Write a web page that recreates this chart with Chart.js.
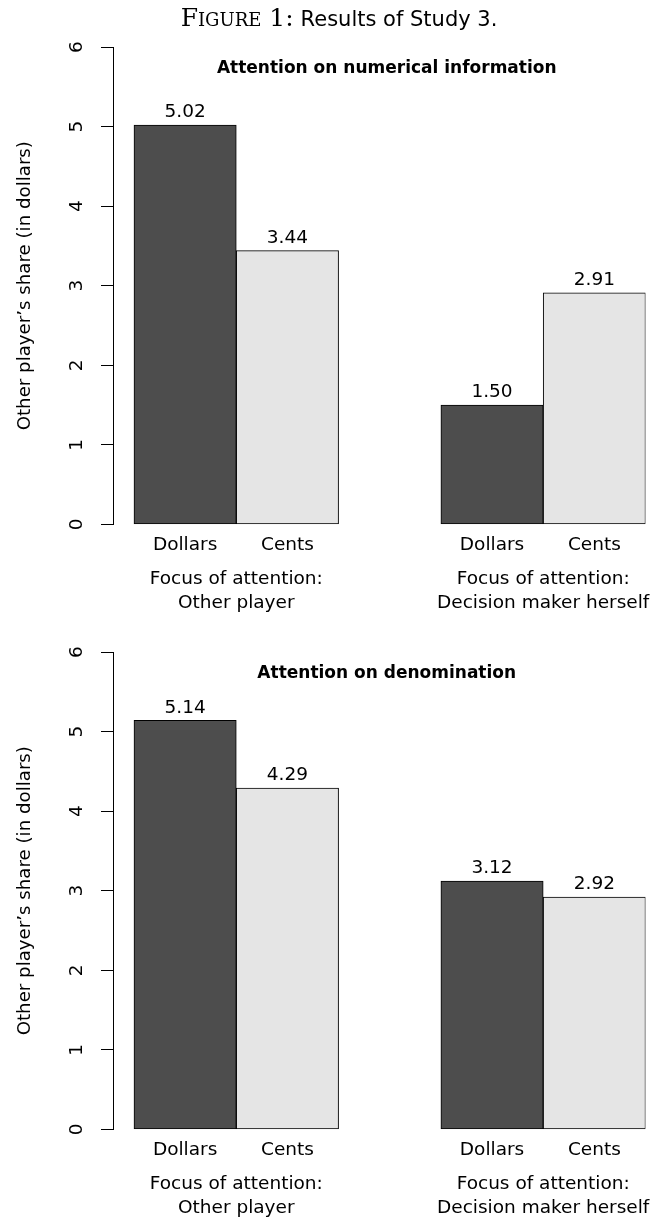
<!DOCTYPE html>
<html>
<head>
<meta charset="utf-8">
<script src="https://cdn.jsdelivr.net/npm/chart.js@4.4.0/dist/chart.umd.min.js"></script>
<style>
html,body{margin:0;padding:0;background:#fff;width:664px;height:1217px;overflow:hidden;position:relative}
#title{position:absolute;left:0;top:4px;width:650px;padding-left:14px;text-align:center;font-family:"DejaVu Sans",sans-serif;font-size:21px;line-height:28px;color:#000;white-space:nowrap;z-index:2}
#title .sc{font-family:"DejaVu Serif",serif;font-variant:small-caps;font-size:25px;margin-right:7px}
.panel{position:absolute;left:0;width:664px;height:612px}
</style>
</head>
<body>
<div id="title"><span class="sc">Figure 1:</span>Results of Study 3.</div>
<div class="panel" style="top:0"><canvas id="c1"></canvas></div>
<div class="panel" style="top:605px"><canvas id="c2"></canvas></div>
<script>
// ---- data ----
const barLabels = ['Dollars', 'Cents'];
const groupLabels = [
  ['Focus of attention:', 'Other player'],
  ['Focus of attention:', 'Decision maker herself']
];
const panelTitles = ['Attention on numerical information', 'Attention on denomination'];
const numericalValues = [5.02, 3.44, 1.50, 2.91];     // Other: Dollars, Cents ; Herself: Dollars, Cents
const denominationValues = [5.14, 4.29, 3.12, 2.92];
const yTicks = [0, 1, 2, 3, 4, 5, 6];
const yTitle = 'Other player\u2019s share (in dollars)';
const barColors = ['#4d4d4d', '#e5e5e5'];

// ---- drawing ----
const FONT = '"DejaVu Sans", "Liberation Sans", Arial, sans-serif';
const FS = 18.5;
Chart.defaults.font.family = FONT;
Chart.defaults.font.size = FS;
Chart.defaults.color = '#000';

const X_MIN = -0.205, X_MAX = 5;

const annotate = {
  id: 'annotate',
  afterDatasetsDraw(chart, args, opts) {
    const {ctx, chartArea, scales} = chart;
    const meta = chart.getDatasetMeta(0);
    const ds = chart.data.datasets[0];
    ctx.save();
    ctx.fillStyle = '#000';
    ctx.textAlign = 'center';
    ctx.textBaseline = 'middle';
    ctx.font = FS + 'px ' + FONT;
    meta.data.forEach((bar, k) => {
      ctx.fillText(ds.data[k].y.toFixed(2), bar.x, bar.y - 12.5);
    });
    ctx.font = 'bold 17px ' + FONT;
    ctx.fillText(opts.title, scales.x.getPixelForValue(2.5) - 3, chartArea.top + 22);
    ctx.restore();
  }
};

function noPad(s) { s.paddingLeft = 0; s.paddingRight = 0; }

function makePanel(id, values, title) {
  const slots = values.map((v, k) => Math.floor(k / 2) * 3 + (k % 2) + 0.5);
  const centers = groupLabels.map((g, i) => i * 3 + 1);
  return new Chart(document.getElementById(id), {
    type: 'bar',
    data: {
      datasets: [{
        data: values.map((v, k) => ({x: slots[k], y: v})),
        backgroundColor: values.map((v, k) => barColors[k % 2]),
        borderColor: '#000',
        borderWidth: 1,
        borderSkipped: false,
        barPercentage: 1,
        categoryPercentage: 1
      }]
    },
    plugins: [annotate],
    options: {
      responsive: true,
      maintainAspectRatio: false,
      animation: false,
      events: [],
      layout: {padding: {top: 47, right: 18.5, bottom: 0, left: 0}},
      plugins: {
        legend: {display: false},
        tooltip: {enabled: false},
        annotate: {title: title}
      },
      scales: {
        x: {
          type: 'linear', position: 'bottom', weight: 0,
          min: X_MIN, max: X_MAX, offset: false,
          grid: {display: false, drawTicks: false}, border: {display: false},
          afterBuildTicks: s => { s.ticks = slots.map(v => ({value: v})); },
          afterFit: s => { s.height = 41; noPad(s); },
          ticks: {
            autoSkip: false, minRotation: 0, maxRotation: 0, padding: 10,
            font: {size: FS}, color: '#000',
            callback: (v, i) => barLabels[i % 2]
          }
        },
        x2: {
          type: 'linear', position: 'bottom', weight: 1,
          min: X_MIN, max: X_MAX, offset: false,
          grid: {display: false, drawTicks: false}, border: {display: false},
          afterBuildTicks: s => { s.ticks = centers.map(v => ({value: v})); },
          afterFit: s => { s.height = 46.6; noPad(s); },
          ticks: {
            autoSkip: false, minRotation: 0, maxRotation: 0, padding: 2,
            font: {size: FS, lineHeight: 1.3}, color: '#000',
            callback: (v, i) => groupLabels[i]
          }
        },
        y: {
          position: 'left', min: 0, max: 6,
          afterBuildTicks: s => { s.ticks = yTicks.map(v => ({value: v})); },
          afterFit: s => { s.width = 113; },
          grid: {display: true, drawOnChartArea: false, drawTicks: true, tickLength: 12, color: '#000', lineWidth: 1},
          border: {display: true, color: '#000', width: 1},
          ticks: {
            minRotation: 90, maxRotation: 90, crossAlign: 'center', padding: 18,
            font: {size: FS}, color: '#000',
            callback: v => String(v)
          },
          title: {display: true, text: yTitle, color: '#000', font: {size: 18.2}, padding: {top: 14, bottom: 0}}
        }
      }
    }
  });
}

makePanel('c1', numericalValues, panelTitles[0]);
makePanel('c2', denominationValues, panelTitles[1]);
</script>
</body>
</html>
